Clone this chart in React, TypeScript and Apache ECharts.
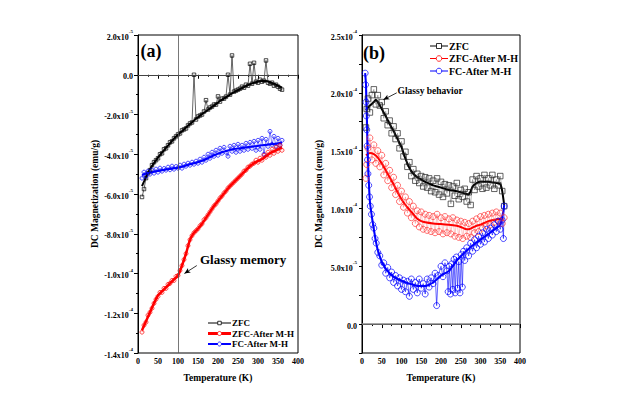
import React, { useEffect, useRef } from 'react';
import * as echarts from 'echarts';

const FONT = '"Liberation Serif", "Times New Roman", serif';

// ---------- Panel (a) : magnetization in units of 1e-5 emu/g ----------
const tempA = [10,15,20,25,30,35,40,45,50,55,60,65,70,75,80,85,90,95,100,105,110,115,120,125,130,135,140,145,150,155,160,165,170,175,180,185,190,195,200,205,210,215,220,225,230,235,240,245,250,255,260,265,270,275,280,285,290,295,300,305,310,315,320,325,330,335,340,345,350,355,360];
const zfcA = [-6.15,-5.75,-5.2,-4.95,-4.8,-4.55,-4.4,-4.3,-4.2,-4.0,
  -3.95,-3.75,-3.7,-3.55,-3.4,-3.35,-3.2,-3.1,-3.0,-2.95,
  -2.8,-2.75,-2.7,-2.55,-2.45,-2.4,0.0,-2.25,-2.1,-2.05,
  -2.0,-1.85,-1.28,-1.75,-1.65,-1.6,-1.5,-1.5,-1.09,-1.35,
  -1.2,-1.2,-1.1,0.0,-1.0,0.97,-0.85,-0.8,-0.75,-0.7,
  -0.6,-0.65,-0.5,-0.55,0.55,-0.45,0.6,-0.35,-0.4,-0.25,
  -0.35,-0.3,0.72,-0.4,-0.45,-0.4,-0.55,-0.5,-0.6,-0.7,-0.75];
const zfcMHA = [-12.95,-12.6,-12.45,-12.1,-11.95,-11.75,-11.5,-11.3,-11.15,-10.95,
  -10.95,-10.75,-10.75,-10.55,-10.5,-10.35,-10.35,-10.15,-10.1,-9.85,
  -9.6,-9.3,-9.0,-8.6,-8.3,-8.1,-7.95,-7.85,-7.75,-7.6,
  -7.5,-7.3,-7.2,-7.05,-6.9,-6.75,-6.6,-6.5,-6.35,-6.2,
  -6.1,-5.95,-5.85,-5.7,-5.6,-5.5,-5.4,-5.3,-5.2,-5.1,
  -5.0,-4.85,-4.8,-4.65,-4.6,-4.5,-4.45,-4.3,-4.4,-4.2,
  -4.3,-4.05,-4.15,-3.9,-4.05,-3.75,-3.95,-3.65,-3.85,-3.55,-3.8];
const fcMHA = [-5.2,-4.9,-5.1,-4.85,-5.0,-4.8,-4.95,-4.75,-4.9,-4.7,
  -4.85,-4.72,-4.8,-4.65,-4.78,-4.6,-4.75,-4.62,-4.7,-4.55,
  -4.7,-4.5,-4.6,-4.45,-4.55,-4.4,-4.5,-4.35,-4.45,-4.25,
  -4.4,-4.15,-4.3,-4.0,-4.2,-3.9,-4.1,-3.8,-4.05,-3.7,
  -3.95,-3.65,-3.9,-4.1,-3.6,-3.85,-3.55,-3.9,-3.5,-3.85,
  -3.55,-3.8,-3.45,-3.75,-3.4,-3.7,-3.35,-3.8,-3.3,-3.75,
  -3.2,-4.0,-3.25,-3.6,-2.85,-3.5,-3.1,-3.6,-3.2,-3.55,-3.3];

const tempFitA = [10,20,30,40,50,60,70,80,90,100,110,120,130,140,150,160,170,180,190,200,210,220,230,240,250,260,270,280,290,300,310,320,330,340,350,360];
const zfcFitA = [-5.6,-5.15,-4.75,-4.45,-4.17,-3.92,-3.68,-3.45,-3.22,-3.02,-2.84,-2.66,-2.48,-2.3,-2.14,-1.98,-1.84,-1.7,-1.55,-1.4,-1.26,-1.13,-1.0,-0.88,-0.77,-0.67,-0.57,-0.48,-0.4,-0.34,-0.31,-0.32,-0.37,-0.45,-0.55,-0.65];
const zfcMHFitA = [-12.85,-12.4,-11.95,-11.5,-11.1,-10.9,-10.7,-10.5,-10.3,-10.1,-9.6,-9.0,-8.3,-7.95,-7.75,-7.5,-7.2,-6.9,-6.6,-6.35,-6.1,-5.85,-5.6,-5.4,-5.2,-5.0,-4.8,-4.6,-4.45,-4.35,-4.25,-4.1,-3.95,-3.85,-3.75,-3.65];
const fcMHFitA = [-5.05,-4.97,-4.92,-4.88,-4.84,-4.8,-4.77,-4.74,-4.71,-4.68,-4.63,-4.57,-4.5,-4.45,-4.4,-4.33,-4.25,-4.15,-4.05,-3.97,-3.9,-3.84,-3.78,-3.74,-3.71,-3.68,-3.65,-3.62,-3.6,-3.58,-3.55,-3.53,-3.5,-3.48,-3.45,-3.42];

// ---------- Panel (b) : magnetization in units of 1e-5 emu/g ----------
const tempB = [10,12,15,20,25,30,35,40,45,50,55,60,65,70,75,80,85,90,95,100,105,110,115,120,125,130,135,140,145,150,155,160,165,170,175,180,185,190,195,200,205,210,215,220,225,230,235,240,245,250,255,260,265,270,275,280,285,290,295,300,305,310,315,320,325,330,335,340,345,350,355,360];
const zfcB = [17.0,18.6,19.5,
  18.3,19.8,20.3,19.0,19.8,18.9,19.2,17.8,18.4,17.2,
  17.6,16.5,17.1,16.0,16.5,15.2,15.8,14.5,14.9,13.6,
  14.0,12.8,13.4,12.4,13.0,12.2,12.8,11.9,12.7,11.8,
  12.6,11.5,12.4,11.4,12.6,11.2,12.3,11.0,12.1,11.3,
  12.0,10.4,11.9,11.1,12.2,10.8,11.6,11.0,11.7,10.6,
  11.4,10.3,12.5,11.6,12.8,11.9,12.6,11.7,12.9,11.8,
  12.6,12.0,12.9,11.7,12.5,12.0,12.8,11.5,10.2];
const zfcMHB = [12.6,13.8,15.2,
  16.1,14.2,15.5,13.9,15.0,13.6,14.6,12.9,13.9,12.4,
  13.3,11.8,12.7,11.2,12.0,10.6,11.5,10.1,11.0,9.6,
  10.6,9.2,10.2,8.7,9.8,8.4,9.7,8.2,9.5,8.1,
  9.4,8.0,9.3,7.9,9.5,8.0,9.2,7.8,9.3,7.9,
  9.1,7.8,9.2,7.6,9.0,7.5,8.9,7.4,8.8,7.6,
  8.7,7.5,8.9,7.9,9.1,8.0,9.3,8.3,9.4,8.5,
  9.5,8.6,9.6,8.8,9.7,8.9,9.6,8.7,9.2];
const tempFcB = [8,9,10,11,12,13,14,15,17,19,21,24,27,30,33,36,40,45,50,55,60,65,70,75,80,85,90,95,100,105,110,115,120,125,130,135,140,145,150,155,160,165,170,175,180,185,189,193,200,205,210,215,218,221,224,227,230,233,236,239,242,245,248,251,254,257,260,265,270,275,280,285,290,295,300,305,310,315,320,325,330,335,340,345,350,355,358,360];
const fcMHB = [21.7,20.7,19.2,18.0,16.8,15.4,14.2,13.0,12.0,11.0,10.2,9.5,8.6,8.3,7.4,7.0,
  6.2,5.9,5.1,5.3,4.4,4.9,4.0,4.5,3.6,4.2,
  3.3,4.0,3.0,3.8,2.8,3.7,2.4,3.9,3.0,3.6,
  2.7,3.9,3.1,3.5,2.6,3.9,3.2,4.0,3.5,4.4,
  1.6,4.2,5.0,4.1,5.3,4.6,2.8,5.0,2.6,5.2,
  3.0,5.6,2.7,5.8,3.1,5.4,2.7,6.0,3.2,6.3,
  5.5,6.6,5.9,7.0,6.3,7.3,6.6,7.6,6.9,7.9,
  7.1,8.2,7.4,8.3,7.7,8.6,8.0,8.9,8.2,9.0,7.4,10.2];

const tempZfcFitB = [10,20,30,35,40,50,60,70,80,90,100,110,120,130,140,150,160,170,180,190,200,210,220,230,240,250,260,270,280,290,300,310,320,330,340,350,355,360];
const zfcFitB = [18.5,18.9,19.2,19.4,19.2,18.6,18.0,17.3,16.7,16.0,15.3,14.3,13.5,13.0,12.7,12.5,12.3,12.15,12.0,11.9,11.8,11.7,11.6,11.55,11.5,11.4,11.3,11.2,11.9,12.2,12.3,12.3,12.3,12.25,12.2,12.1,11.5,10.3];
const tempZfcMHFitB = [10,20,30,40,50,60,70,80,90,100,110,120,130,140,150,160,180,200,220,240,250,260,270,280,290,300,320,340,358];
const zfcMHFitB = [14.6,14.8,14.7,14.4,13.9,13.3,12.7,12.1,11.4,10.8,10.3,9.9,9.5,9.1,8.9,8.8,8.7,8.65,8.6,8.5,8.4,8.25,8.2,8.35,8.5,8.6,8.9,9.05,9.1];
const tempFcFitB = [8,10,12,14,16,18,20,25,30,35,40,50,60,70,80,90,100,120,140,160,180,200,220,240,260,280,300,320,340,350,358,360];
const fcMHFitB = [21.7,20.8,18.5,15.5,13.4,11.8,10.6,9.3,8.2,7.2,6.4,5.4,4.8,4.4,4.1,3.9,3.75,3.5,3.3,3.3,3.6,4.2,4.6,5.5,6.2,6.8,7.3,7.8,8.3,8.6,9.8,10.3];

const xTicks = [0, 50, 100, 150, 200, 250, 300, 350, 400];
const seriesNames = ['ZFC', 'ZFC-After M-H', 'FC-After M-H'];

const zip = (t: number[], v: number[]) => t.map((x, i) => [x, v[i]]);

function yLabel(v: number) {
  if (Math.abs(v) < 1e-9) return '{m|0.0}';
  let exp = -5;
  let mant = v;
  if (Math.abs(v) >= 10 - 1e-9) { exp = -4; mant = v / 10; }
  return `{m|${mant.toFixed(1)}x10}{s|${exp}}`;
}

const richLbl = {
  m: { fontFamily: FONT, fontWeight: 'bold', fontSize: 8, color: '#000', lineHeight: 12, verticalAlign: 'bottom' },
  s: { fontFamily: FONT, fontWeight: 'bold', fontSize: 5, color: '#000', lineHeight: 12, verticalAlign: 'top' },
};

function xAxis(i: number) {
  return {
    type: 'value', gridIndex: i, min: xTicks[0], max: xTicks[xTicks.length - 1], interval: 50,
    name: 'Temperature (K)', nameLocation: 'middle', nameGap: 20,
    nameTextStyle: { fontFamily: FONT, fontWeight: 'bold', fontSize: 9.5, color: '#000' },
    axisLine: { lineStyle: { color: '#000', width: 1 } },
    axisTick: { show: true, inside: false, length: 4, lineStyle: { color: '#000' } },
    minorTick: { show: true, splitNumber: 2, length: 2, lineStyle: { color: '#000' } },
    axisLabel: { fontFamily: FONT, fontWeight: 'bold', fontSize: 8, color: '#000', margin: 4 },
    splitLine: { show: false },
  };
}

function raw(name: string, gi: number, data: number[][], color: string, symbol: string, size: number, lw: number, extra: any = {}) {
  return {
    name, type: 'line', xAxisIndex: gi, yAxisIndex: gi, data, symbol, symbolSize: size,
    showAllSymbol: true, silent: true,
    lineStyle: { color, width: lw },
    itemStyle: { color: 'rgba(255,255,255,0)', borderColor: color, borderWidth: 0.7 },
    ...extra,
  };
}

function fit(name: string, gi: number, data: number[][], color: string, width: number, extra: any = {}) {
  return {
    name, type: 'line', xAxisIndex: gi, yAxisIndex: gi, data, symbol: 'none', smooth: 0.2,
    silent: true, lineStyle: { color, width }, itemStyle: { color }, ...extra,
  };
}

function legendItems(x1: number, x2: number, ys: number[], widths: number[], sq: number, r: number, fs: number) {
  const colors = ['#000', '#ff0000', '#0000ff'];
  const out: any[] = [];
  ys.forEach((y, i) => {
    const c = colors[i];
    const cx = (x1 + x2) / 2;
    out.push({ type: 'line', shape: { x1, y1: y, x2, y2: y }, style: { stroke: c, lineWidth: widths[i] }, z: 10 });
    if (i === 0) {
      out.push({ type: 'rect', shape: { x: cx - sq / 2, y: y - sq / 2, width: sq, height: sq }, style: { fill: '#fff', stroke: c, lineWidth: 0.8 }, z: 11 });
    } else {
      out.push({ type: 'circle', shape: { cx, cy: y, r }, style: { fill: '#fff', stroke: c, lineWidth: 0.8 }, z: 11 });
    }
    out.push({ type: 'text', x: x2 + 1, y, style: { text: seriesNames[i], font: `bold ${fs}px ${FONT}`, fill: '#000', align: 'left', verticalAlign: 'middle' }, z: 11 });
  });
  return out;
}

export default function App() {
  const ref = useRef<HTMLDivElement>(null);
  useEffect(() => {
    if (!ref.current) return;
    const chart = echarts.init(ref.current, undefined, { renderer: 'svg' });
    const option: any = {
      animation: false,
      backgroundColor: '#fff',
      grid: [
        { left: 138, top: 35, width: 160, height: 318, show: true, borderColor: '#000', borderWidth: 1, backgroundColor: 'rgba(0,0,0,0)' },
        { left: 362, top: 35, width: 158, height: 318, show: true, borderColor: '#000', borderWidth: 1, backgroundColor: 'rgba(0,0,0,0)' },
      ],
      xAxis: [xAxis(0), xAxis(1)],
      yAxis: [
        {
          type: 'value', gridIndex: 0, min: -14, max: 2, interval: 2,
          name: 'DC Magnetization (emu/g)', nameLocation: 'middle', nameGap: 37, nameRotate: 90,
          nameTextStyle: { fontFamily: FONT, fontWeight: 'bold', fontSize: 9.5, color: '#000' },
          axisLine: { show: true, lineStyle: { color: '#000', width: 1 } },
          axisTick: { show: true, inside: false, length: 4, lineStyle: { color: '#000' } },
          minorTick: { show: true, splitNumber: 2, length: 2, lineStyle: { color: '#000' } },
          axisLabel: { formatter: (v: number) => yLabel(v), rich: richLbl, margin: 5 },
          splitLine: { show: false },
        },
        {
          type: 'value', gridIndex: 1, min: -2.5, max: 25, interval: 2.5,
          name: 'DC Magnetization (emu/g)', nameLocation: 'middle', nameGap: 38, nameRotate: 90,
          nameTextStyle: { fontFamily: FONT, fontWeight: 'bold', fontSize: 9.5, color: '#000' },
          axisLine: { show: true, lineStyle: { color: '#000', width: 1 } },
          axisTick: { show: true, inside: false, length: 3, lineStyle: { color: '#000' } },
          axisLabel: {
            formatter: (v: number) => {
              const k = v / 5;
              if (v < -1e-9 || Math.abs(k - Math.round(k)) > 1e-6) return '';
              return yLabel(v);
            },
            rich: richLbl, margin: 5,
          },
          splitLine: { show: false },
        },
      ],
      series: [
        // panel (a)
        raw('ZFC', 0, zip(tempA, zfcA), '#000', 'rect', 3.5, 0.6, {
          markLine: {
            silent: true, symbol: 'none', label: { show: false },
            lineStyle: { color: '#555', width: 0.8, type: 'solid' },
            data: [{ yAxis: 0 }, { xAxis: 100 }],
          },
        }),
        raw('FC-After M-H', 0, zip(tempA, fcMHA), '#0000ff', 'circle', 4, 0.5),
        raw('ZFC-After M-H', 0, zip(tempA, zfcMHA), '#ff0000', 'circle', 4, 0.5),
        fit('ZFC', 0, zip(tempFitA, zfcFitA), '#000', 2),
        fit('FC-After M-H', 0, zip(tempFitA, fcMHFitA), '#0000ff', 2),
        fit('ZFC-After M-H', 0, zip(tempFitA, zfcMHFitA), '#ff0000', 2.5, {
          markLine: {
            silent: true, symbol: 'none', label: { show: false },
            lineStyle: { color: '#000', width: 0.8, type: 'solid' },
            data: [[{ coord: [147, -9.6], symbol: 'none' }, { coord: [116, -10.0], symbol: 'arrow', symbolSize: [4, 6] }]],
          },
        }),
        // panel (b)
        raw('ZFC', 1, zip(tempB, zfcB), '#222', 'rect', 5.5, 0.3, {
          markLine: {
            silent: true, symbol: 'none', label: { show: false },
            lineStyle: { color: '#888', width: 1.5, type: 'solid' },
            data: [{ yAxis: 0 }],
          },
        }),
        raw('ZFC-After M-H', 1, zip(tempB, zfcMHB), '#ff3030', 'circle', 6, 0.3),
        raw('FC-After M-H', 1, zip(tempFcB, fcMHB), '#0000ff', 'circle', 6, 0.6),
        fit('ZFC', 1, zip(tempZfcFitB, zfcFitB), '#000', 2, {
          markLine: {
            silent: true, symbol: 'none', label: { show: false },
            lineStyle: { color: '#000', width: 0.8, type: 'solid' },
            data: [[{ coord: [88, 20.0], symbol: 'none' }, { coord: [54, 19.4], symbol: 'arrow', symbolSize: [4, 6] }]],
          },
        }),
        fit('ZFC-After M-H', 1, zip(tempZfcMHFitB, zfcMHFitB), '#ff0000', 2),
        fit('FC-After M-H', 1, zip(tempFcFitB, fcMHFitB), '#0000ff', 2),
      ],
      graphic: [
        { type: 'text', x: 140.5, y: 51, style: { text: '(a)', font: `bold 18px ${FONT}`, fill: '#000', verticalAlign: 'middle' }, z: 12 },
        { type: 'text', x: 363, y: 52.5, style: { text: '(b)', font: `bold 18px ${FONT}`, fill: '#000', verticalAlign: 'middle' }, z: 12 },
        { type: 'text', x: 200, y: 259, style: { text: 'Glassy memory', font: `bold 13px ${FONT}`, fill: '#000', verticalAlign: 'middle' }, z: 12 },
        { type: 'text', x: 397.5, y: 90.5, style: { text: 'Glassy behavior', font: `bold 9.5px ${FONT}`, fill: '#000', verticalAlign: 'middle' }, z: 12 },
        ...legendItems(208, 231, [323, 333.5, 344], [1, 3, 2], 3.5, 2, 9),
        ...legendItems(430, 448, [46, 58.5, 71], [1, 1, 1], 5, 2.8, 10),
      ],
    };
    chart.setOption(option);
    return () => chart.dispose();
  }, []);
  return <div ref={ref} style={{ position: 'fixed', left: 0, top: 0, width: 636, height: 399, background: '#fff' }} />;
}
